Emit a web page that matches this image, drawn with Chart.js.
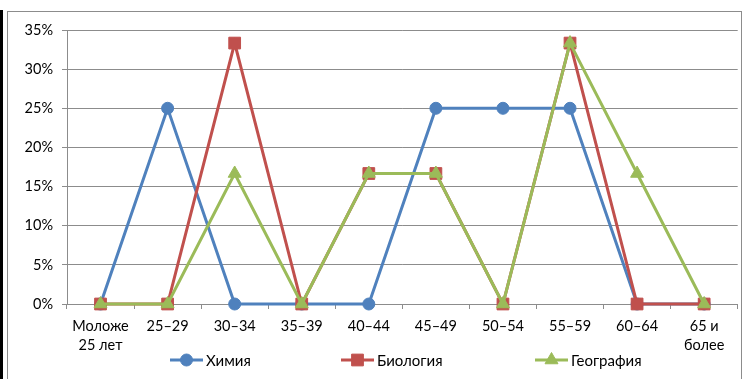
<!DOCTYPE html>
<html>
<head>
<meta charset="utf-8">
<script src="https://cdn.jsdelivr.net/npm/chart.js@4"></script>
<style>
  body { margin: 0; background: #fff; }
  #wrap { position: relative; width: 747px; height: 379px; overflow: hidden; }
  #edge { position: absolute; left: 0; top: 10px; width: 3px; height: 369px; background: #000; }
  #frame { position: absolute; left: 7px; top: 11px; width: 733px; height: 400px; border: 1px solid #8c8c8c; }
  canvas { position: absolute; left: 0; top: 0; }
</style>
</head>
<body>
<div id="wrap">
  <div id="edge"></div>
  <div id="frame"></div>
  <canvas id="grafico" width="747" height="379"></canvas>
</div>
<script>
// возрастные группы
const categorias = [["Моложе", "25 лет"], "25–29", "30–34", "35–39", "40–44", "45–49", "50–54", "55–59", "60–64", ["65 и", "более"]];

const quimica = [0, 25, 0, 0, 0, 25, 25, 25, 0, 0];
const biologia = [0, 0, 33.33, 0, 16.67, 16.67, 0, 33.33, 0, 0];
const geografia = [0, 0, 16.67, 0, 16.67, 16.67, 0, 33.33, 16.67, 0];

const nomes = ["Химия", "Биология", "География"];
const cores = ["#4F81BD", "#C0504D", "#9BBB59"];
const pontos = ["circle", "rect", "triangle"];
const raios = [6, 8.3, 7.5];

const fonte = "Lato, 'Noto Sans', sans-serif";

// legenda simples embaixo, como no Excel
const legendaPlugin = {
  id: "legendaBaixo",
  afterDraw(chart) {
    const ctx = chart.ctx;
    const xs = [170, 341, 535];
    const y = 360;
    chart.data.datasets.forEach((ds, i) => {
      const x = xs[i];
      ctx.save();
      ctx.strokeStyle = ds.borderColor;
      ctx.fillStyle = ds.borderColor;
      ctx.lineWidth = 3;
      ctx.beginPath();
      ctx.moveTo(x, y);
      ctx.lineTo(x + 33, y);
      ctx.stroke();
      ctx.lineWidth = 1;
      Chart.helpers.drawPoint(ctx, {
        pointStyle: ds.pointStyle,
        radius: ds.pointRadius,
        rotation: 0,
        borderWidth: 1
      }, x + 16.5, y);
      ctx.fillStyle = "#000";
      ctx.font = "15px " + fonte;
      ctx.textBaseline = "middle";
      ctx.fillText(ds.label, x + 36, y + 1);
      ctx.restore();
    });
  }
};

const ctx = document.getElementById("grafico").getContext("2d");

new Chart(ctx, {
  type: "line",
  data: {
    labels: categorias,
    datasets: [quimica, biologia, geografia].map((valores, i) => ({
      label: nomes[i],
      data: valores,
      borderColor: cores[i],
      backgroundColor: cores[i],
      pointBorderColor: cores[i],
      pointBackgroundColor: cores[i],
      borderWidth: 3,
      pointStyle: pontos[i],
      pointRadius: raios[i],
      pointBorderWidth: 1,
      pointHoverRadius: raios[i],
      tension: 0,
      clip: false,
      order: 2 - i
    }))
  },
  options: {
    responsive: false,
    animation: false,
    layout: { padding: { left: 0, right: 6, top: 30, bottom: 0 } },
    plugins: { legend: { display: false }, tooltip: { enabled: false } },
    scales: {
      x: {
        offset: true,
        afterFit: s => { s.height = 75; },
        grid: { offset: true, drawOnChartArea: false, tickLength: 5, color: "#8c8c8c" },
        border: { color: "#8c8c8c" },
        ticks: { color: "#000", font: { family: fonte, size: 14.5, lineHeight: 1.3 }, padding: 8, maxRotation: 0, autoSkip: false }
      },
      y: {
        min: 0,
        max: 35,
        afterFit: s => { s.width = 67; },
        grid: { color: "#8c8c8c", tickLength: 5 },
        border: { color: "#8c8c8c" },
        ticks: {
          stepSize: 5,
          color: "#000",
          font: { family: fonte, size: 14.5 },
          padding: 9,
          callback: v => v + "%"
        }
      }
    }
  },
  plugins: [legendaPlugin]
});
</script>
</body>
</html>
